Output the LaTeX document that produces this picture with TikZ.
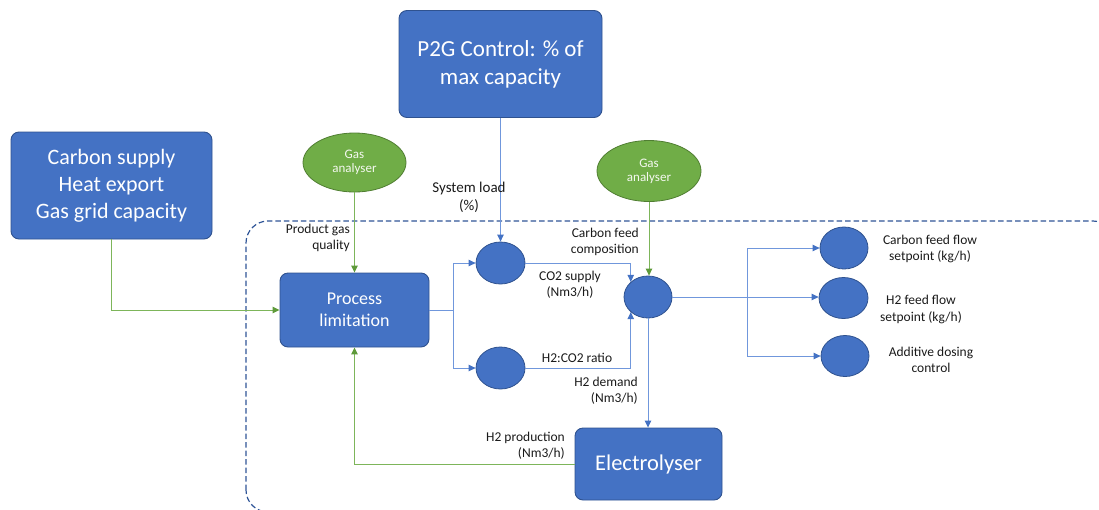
\documentclass[tikz,border=0pt]{standalone}
\usepackage{fontspec}
\setmainfont{Carlito}
\usetikzlibrary{arrows.meta,shapes.geometric}

\definecolor{boxblue}{HTML}{4472C4}
\definecolor{boxedge}{HTML}{2F528F}
\definecolor{gasgreen}{HTML}{70AD47}
\definecolor{gasedge}{HTML}{507E32}
\definecolor{flowblue}{HTML}{7097DC}
\definecolor{flowgreen}{HTML}{7DB55A}
\definecolor{tipgreen}{HTML}{5E9A3A}
\definecolor{framecol}{HTML}{2F5597}
\definecolor{labeltext}{HTML}{1A1A1A}

\newcommand{\fsz}[1]{\fontsize{#1}{1.22\dimexpr #1pt\relax}\selectfont}

\tikzset{
  bigbox/.style={draw=boxedge, line width=0.9pt, fill=boxblue, rounded corners=8pt,
    text=white, align=center, inner sep=0pt},
  analyser/.style={ellipse, draw=gasedge, line width=0.8pt, fill=gasgreen,
    text=white!92!gasgreen, align=center, inner sep=0pt,
    font=\fontsize{13}{16}\selectfont},
  dot/.style={ellipse, draw=boxedge, line width=0.8pt, fill=boxblue, inner sep=0pt},
  lbl/.style={text=labeltext, font=\fsz{13.5}, inner sep=0pt},
  blueflow/.style={draw=flowblue, line width=1pt,
    -{Triangle[length=7pt,width=6.5pt,color=boxblue,fill=boxblue]}},
  greenflow/.style={draw=flowgreen, line width=1pt,
    -{Triangle[length=7pt,width=6.5pt,color=tipgreen,fill=tipgreen]}},
  blueline/.style={draw=flowblue, line width=1pt},
  frame/.style={draw=framecol, line width=1.2pt, dash pattern=on 5.5pt off 3pt,
    rounded corners=22pt}
}

\begin{document}
\begin{tikzpicture}[x=1pt,y=-1pt]
  \useasboundingbox (0,0) rectangle (1099,509);
  \clip (0,0) rectangle (1099,509);

  % control boundary
  \draw[frame] (246,512) -- (246,221) -- (1115,221) -- (1115,512) -- cycle;

  % large blocks
  \node[bigbox, minimum width=203pt, minimum height=107pt, font=\fsz{23}]
    (p2g) at (500.5,64) {P2G Control: \% of\\max capacity};
  \node[bigbox, minimum width=201pt, minimum height=107pt, font=\fsz{22}]
    (cs) at (111.5,185.5) {Carbon supply\\Heat export\\Gas grid capacity};
  \node[bigbox, minimum width=149pt, minimum height=74pt, font=\fsz{18}]
    (pl) at (354.5,310) {Process\\limitation};
  \node[bigbox, minimum width=147pt, minimum height=72pt, font=\fsz{22.5}]
    (el) at (648.5,464) {Electrolyser};

  % gas analysers
  \node[analyser, minimum width=103pt, minimum height=59pt]
    (ga1) at (354.5,162.5) {\raisebox{-1.5pt}{\begin{tabular}{@{}c@{}}Gas\\[-2pt]analyser\end{tabular}}};
  \node[analyser, minimum width=104pt, minimum height=61pt]
    (ga2) at (649,171) {\raisebox{-4pt}{\begin{tabular}{@{}c@{}}Gas\\[-2pt]analyser\end{tabular}}};

  % control points
  \node[dot, minimum width=49pt, minimum height=42pt] (c1) at (500.5,263) {};
  \node[dot, minimum width=49pt, minimum height=42pt] (c2) at (500.5,368) {};
  \node[dot, minimum width=48pt, minimum height=42pt] (cc) at (648,297) {};
  \node[dot, minimum width=48pt, minimum height=42pt] (ra) at (844,248) {};
  \node[dot, minimum width=49pt, minimum height=41pt] (rb) at (843.5,298) {};
  \node[dot, minimum width=48pt, minimum height=41pt] (rc) at (845,356) {};

  % branch points
  \coordinate (sp1) at (453,310);
  \coordinate (sp2) at (747,297);

  % connectors
  \draw[greenflow] (cs.south) |- (pl.west);
  \draw[greenflow] (ga1.south) -- (ga1.south |- pl.north);
  \draw[greenflow] (el.west) -| (pl.south);
  \draw[greenflow] (ga2.south) -- (ga2.south |- cc.north);

  \draw[blueflow] (p2g.south) -- (c1.north);
  \draw[blueline] (pl.east) -- (sp1);
  \draw[blueflow] (sp1) |- (c1.west);
  \draw[blueflow] (sp1) |- (c2.west);
  \draw[blueflow] (c1.east) -| (cc.north west);
  \draw[blueflow] (c2.east) -| (cc.south west);
  \draw[blueflow] (cc.south) -- (cc.south |- el.north);
  \draw[blueline] (cc.east) -- (sp2);
  \draw[blueflow] (sp2) |- (ra.west);
  \draw[blueflow] (sp2) -- (sp2 -| rb.west);
  \draw[blueflow] (sp2) |- (rc.west);

  % labels
  \node[lbl, align=right, anchor=east] (l1) at (350,238) {Product gas\\quality};
  \node[lbl, align=center, font=\fsz{15}] (l2) at (469,197) {System load\\(\%)};
  \node[lbl, align=right, anchor=east] (l3) at (639,242) {Carbon feed\\composition};
  \node[lbl, align=center] (l4) at (570,285) {CO2 supply\\(Nm3/h)};
  \node[lbl, align=center] (l5) at (577,358) {H2:CO2 ratio};
  \node[lbl, align=right, anchor=east] (l6) at (638,391) {H2 demand\\(Nm3/h)};
  \node[lbl, align=right, anchor=east] (l7) at (565,446) {H2 production\\(Nm3/h)};
  \node[lbl, align=center] (l8) at (930,249) {Carbon feed flow\\setpoint (kg/h)};
  \node[lbl, align=center] (l9) at (921,309.5) {H2 feed flow\\setpoint (kg/h)};
  \node[lbl, align=center] (l10) at (931,360) {Additive dosing\\control};
\end{tikzpicture}
\end{document}
